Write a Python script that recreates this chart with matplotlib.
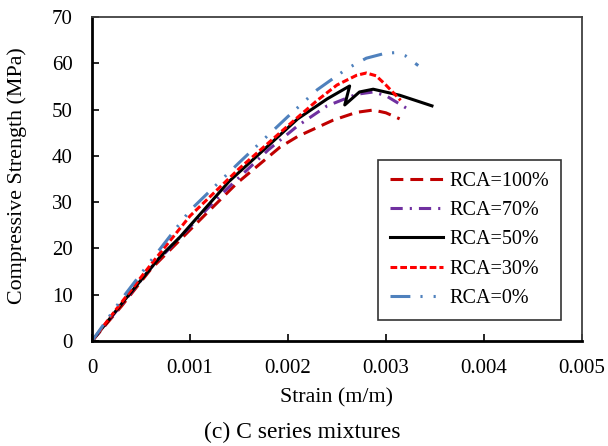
import matplotlib
matplotlib.use("Agg")
import matplotlib.pyplot as plt

plt.rcParams['font.family'] = ['Liberation Serif', 'DejaVu Serif']

# strain (m/m) / compressive strength (MPa)
strain_100 = [0, 0.0003, 0.0006, 0.00117, 0.00148, 0.00192, 0.0021, 0.00246, 0.0027, 0.00287, 0.003, 0.00314]
stress_100 = [0, 7.5, 15.5, 27.6, 34.1, 41.9, 44.2, 47.7, 49.4, 49.9, 49.3, 48.0]

strain_70 = [0, 0.0003, 0.0006, 0.00131, 0.0018, 0.0021, 0.0024, 0.0027, 0.00287, 0.003, 0.00321]
stress_70 = [0, 7.8, 15.8, 31.5, 41.3, 46.5, 50.8, 53.3, 53.8, 53.0, 50.3]

strain_50 = [0, 0.0003, 0.0007, 0.0009, 0.0014, 0.0021, 0.0024, 0.00263, 0.00258, 0.00273, 0.00287, 0.00314, 0.00347]
stress_50 = [0, 8.0, 18.3, 22.5, 34.5, 48.0, 52.3, 55.1, 51.0, 53.8, 54.4, 53.1, 50.8]

strain_30 = [0, 0.0003, 0.0006, 0.001, 0.0015, 0.002, 0.0023, 0.0025, 0.0027, 0.0028, 0.0029, 0.003, 0.00315]
stress_30 = [0, 8.3, 16.5, 27.0, 37.2, 46.5, 52.0, 55.3, 57.4, 57.9, 57.3, 55.3, 52.0]

strain_0 = [0, 0.0003, 0.0006, 0.001, 0.0015, 0.002, 0.0023, 0.0026, 0.0028, 0.003, 0.0031, 0.0032, 0.00333]
stress_0 = [0, 9.0, 17.3, 28.2, 38.5, 48.5, 54.3, 58.8, 61.1, 62.2, 62.3, 61.6, 59.5]

labels = ['RCA=100%', 'RCA=70%', 'RCA=50%', 'RCA=30%', 'RCA=0%']
xticks = [0, 0.001, 0.002, 0.003, 0.004, 0.005]
xticklabels = ['0', '0.001', '0.002', '0.003', '0.004', '0.005']

fig = plt.figure(figsize=(6.08, 4.46), dpi=100)
ax = fig.add_axes([0.1513, 0.2354, 0.8057, 0.7265])

ax.plot(strain_100, stress_100, color='#C00000', lw=2.2, dashes=(4.2, 2.3), label=labels[0])
ax.plot(strain_70, stress_70, color='#7030A0', lw=2.2, dashes=(4, 2.3, 0.7, 2.3), label=labels[1])
ax.plot(strain_50, stress_50, color='black', lw=2.2, label=labels[2])
ax.plot(strain_30, stress_30, color='#FF0000', lw=2.2, dashes=(2.2, 1.0), label=labels[3])
ax.plot(strain_0, stress_0, color='#4F81BD', lw=2.2, dashes=(6.5, 3.3, 0.7, 3.6, 0.7, 3.6), label=labels[4])

ax.set_xlim(0, 0.005)
ax.set_ylim(0, 70)
ax.set_xticks(xticks)
ax.set_xticklabels(xticklabels)
ax.set_yticks(range(0, 71, 10))

ax.tick_params(direction='in', length=5, width=1.2, labelsize=15)
ax.tick_params(axis='y', pad=14)
ax.tick_params(axis='x', pad=13)
for s in ['left', 'bottom']:
    ax.spines[s].set_linewidth(2)
    ax.spines[s].set_color('black')
for s in ['top', 'right']:
    ax.spines[s].set_linewidth(1.3)
    ax.spines[s].set_color('#404040')

ax.set_xlabel('Strain (m/m)', fontsize=15.8)
ax.xaxis.set_label_coords(0.499, -0.145)
ax.set_ylabel('Compressive Strength (MPa)', fontsize=15.8)
ax.yaxis.set_label_coords(-0.133, 0.51)

leg = ax.legend(loc='upper left', bbox_to_anchor=(0.584, 0.559), borderaxespad=0,
                fontsize=14.5, frameon=True, fancybox=False, edgecolor='black',
                handlelength=2.6, labelspacing=0.5, borderpad=0.6, handletextpad=0.35)
leg.get_frame().set_linewidth(1.2)

fig.text(0.4975, 0.031, '(c) C series mixtures', ha='center', va='center', fontsize=17)

fig.savefig('out.png', dpi=100)
